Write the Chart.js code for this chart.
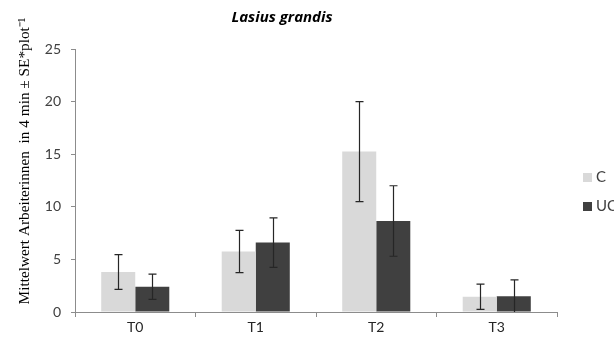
<!DOCTYPE html>
<html>
<head>
<meta charset="utf-8">
<script src="https://cdn.jsdelivr.net/npm/chart.js@4.4.1/dist/chart.umd.min.js"></script>
<style>
  html, body { margin: 0; padding: 0; background: #fff; overflow: hidden; }
  #wrap { width: 614px; height: 343px; }
</style>
</head>
<body>
<div id="wrap"><canvas id="chart" width="614" height="343"></canvas></div>
<script>
// Daten
const categories = ['T0', 'T1', 'T2', 'T3'];
const seriesNames = ['C', 'UC'];
const valuesC = [3.8, 5.75, 15.25, 1.45];
const valuesUC = [2.4, 6.6, 8.65, 1.5];
const errC = [1.65, 2.0, 4.75, 1.2];
const errUC = [1.2, 2.35, 3.35, 1.55];
const yTicks = [0, 5, 10, 15, 20, 25];

const titleText = 'Lasius grandis';
const yTitleText = 'Mittelwert Arbeiterinnen  in 4 min \u00b1 SE*plot\u207b\u00b9';

const colC = '#d9d9d9';
const colUC = '#404040';
const axisCol = '#8c8c8c';
const tickFont = { family: 'Lato', size: 14 };

// Fehlerbalken + Titel + Legende
const extras = {
  id: 'extras',
  afterDatasetsDraw(chart) {
    const ctx = chart.ctx;
    const y = chart.scales.y;
    ctx.save();
    ctx.strokeStyle = '#262626';
    ctx.lineWidth = 1.2;
    chart.data.datasets.forEach((ds, di) => {
      const meta = chart.getDatasetMeta(di);
      meta.data.forEach((bar, i) => {
        const v = ds.data[i], e = ds.errors[i];
        const x = Math.round(bar.x) + 0.5;
        const top = y.getPixelForValue(v + e);
        const bot = y.getPixelForValue(Math.max(0, v - e));
        ctx.beginPath();
        ctx.moveTo(x, top); ctx.lineTo(x, bot);
        ctx.moveTo(x - 4, top); ctx.lineTo(x + 4, top);
        if (v - e > 0) { ctx.moveTo(x - 4, bot); ctx.lineTo(x + 4, bot); }
        ctx.stroke();
      });
    });
    ctx.restore();
  },
  afterDraw(chart) {
    const ctx = chart.ctx;
    ctx.save();
    // Titel
    ctx.fillStyle = '#000';
    ctx.font = 'italic bold 15px "Open Sans"';
    ctx.textAlign = 'center';
    ctx.textBaseline = 'middle';
    ctx.fillText(titleText, 282, 18);
    // y-Achsentitel
    ctx.translate(29, 161);
    ctx.rotate(-Math.PI / 2);
    ctx.textBaseline = 'alphabetic';
    ctx.font = '15.3px "Liberation Serif"';
    ctx.fillText(yTitleText, 0, 0);
    ctx.restore();
    // Legende
    ctx.save();
    ctx.font = '15px Lato';
    ctx.textBaseline = 'middle';
    ctx.textAlign = 'left';
    const ly = [177.5, 206.5];
    chart.data.datasets.forEach((ds, i) => {
      ctx.fillStyle = ds.backgroundColor;
      ctx.fillRect(583, ly[i] - 4.5, 9, 9);
      ctx.fillStyle = '#404040';
      ctx.fillText(ds.label, 596, ly[i]);
    });
    ctx.restore();
  }
};

new Chart(document.getElementById('chart'), {
  type: 'bar',
  data: {
    labels: categories,
    datasets: [
      { label: seriesNames[0], data: valuesC, errors: errC, backgroundColor: colC },
      { label: seriesNames[1], data: valuesUC, errors: errUC, backgroundColor: colUC }
    ]
  },
  options: {
    responsive: false,
    animation: false,
    layout: { padding: { top: 49, right: 57, bottom: 0, left: 0 } },
    datasets: { bar: { categoryPercentage: 0.565, barPercentage: 1.0 } },
    plugins: { legend: { display: false }, tooltip: { enabled: false }, title: { display: false } },
    scales: {
      x: {
        grid: { display: true, offset: true, drawOnChartArea: false, color: axisCol, tickLength: 5 },
        border: { color: axisCol },
        ticks: { color: '#262626', font: tickFont, padding: 2 },
        afterFit(s) { s.height = 31; }
      },
      y: {
        min: 0, max: 25,
        afterBuildTicks(s) { s.ticks = yTicks.map(v => ({ value: v })); },
        grid: { display: true, drawOnChartArea: false, color: axisCol, tickLength: 4 },
        border: { color: axisCol },
        ticks: { color: '#404040', font: tickFont, padding: 10 },
        afterFit(s) { s.width = 75; }
      }
    }
  },
  plugins: [extras]
});
</script>
</body>
</html>
